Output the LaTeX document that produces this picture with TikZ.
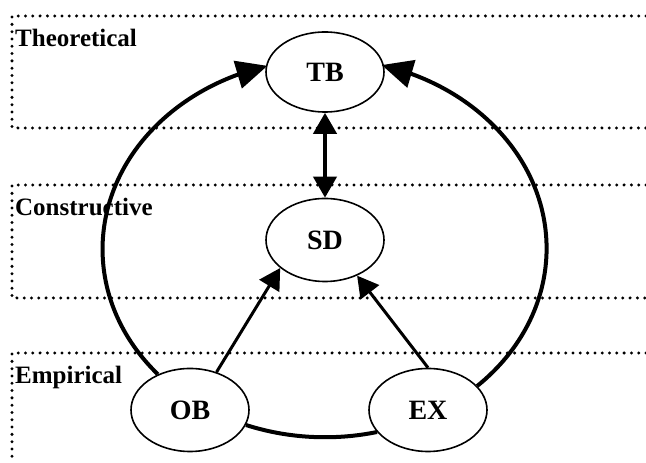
\documentclass[tikz,border=0pt]{standalone}
\usepackage{fontspec}
\setmainfont{Liberation Serif}
\usetikzlibrary{arrows.meta, bending, shapes.geometric}

\begin{document}
\begin{tikzpicture}[x=1pt, y=1pt,
		band/.style = {line width=3.3pt, dash pattern=on 0pt off 7.3pt, line cap=round},
		bandname/.style = {anchor=base west, inner sep=0pt, font=\bfseries\fontsize{25}{29}\selectfont},
		concept/.style = {draw, ellipse, fill=white, line width=1.6pt, minimum width=118pt, minimum height=83pt, inner sep=0pt, font=\bfseries\fontsize{28}{32}\selectfont},
		link/.style = {line width=3pt, -{Triangle[length=21pt, width=23pt]}},
		ringline/.style = {line width=4pt}]
	\def\W{646};
	\def\L{12};
	\def\rx{223.5pt};
	\def\ry{190pt};

	\useasboundingbox (0,0) rectangle (\W,463);

	\begin{scope}
		\draw [band] (\W,447) -- (\L,447) -- (\L,335) -- (\W,335);
		\draw [band] (\W,278) -- (\L,278) -- (\L,165) -- (\W,165);
		\draw [band] (\W,110) -- (\L,110) -- (\L,4);

		\node [bandname] (theoretical)  at (15,416) {Theoretical};
		\node [bandname] (constructive) at (15,247) {Constructive};
		\node [bandname] (empirical)    at (15,79)  {Empirical};
	\end{scope}

	\begin{scope}
		\node [concept, minimum height=80pt] (TB) at (325,391) {TB};
		\node [concept] (SD) at (325,223) {SD};
		\node [concept] (OB) at (190,53)  {OB};
		\node [concept] (EX) at (428,53)  {EX};
	\end{scope}

	\begin{scope}[link]
		\draw [{Triangle[length=21pt, width=23pt]}-{Triangle[length=21pt, width=23pt]}, line width=4pt] (TB) -- (SD);
		\draw (OB.55) -- (SD.212);
		\draw (EX.north) -- (SD.312);
	\end{scope}

	\begin{scope}[ringline]
		\draw [-{Triangle[length=31pt, width=28pt]}] (OB.132) arc [start angle=221.2, end angle=105.2, x radius=\rx, y radius=\ry];
		\draw [-{Triangle[length=31pt, width=28pt]}] (EX.26) arc [start angle=-46.4, end angle=74.8, x radius=\rx, y radius=\ry];
		\draw (OB.-15) arc [start angle=249.3, end angle=283.5, x radius=\rx, y radius=\ry];
	\end{scope}
\end{tikzpicture}
\end{document}
